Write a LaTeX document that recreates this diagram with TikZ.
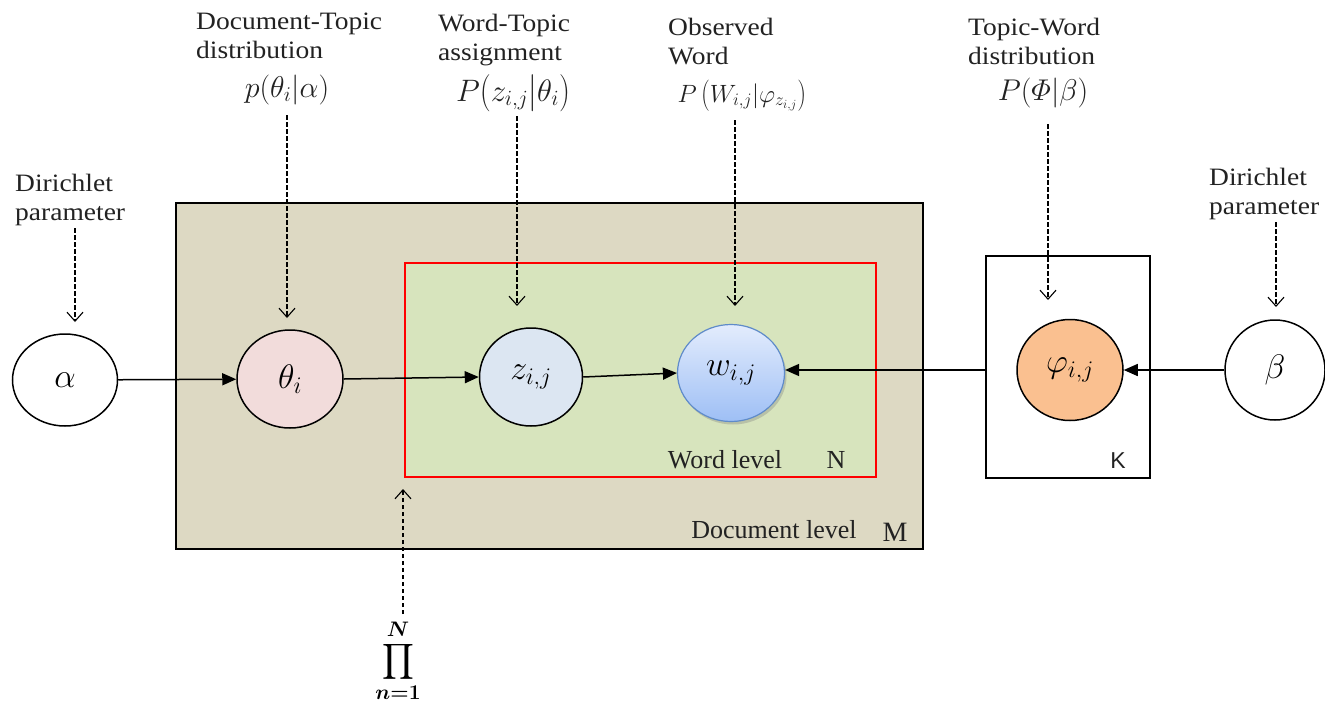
\documentclass[tikz,border=0pt]{standalone}
\usepackage{fix-cm}
\usepackage{exscale}
\usepackage{bm}
\usepackage{fontspec}
\setmainfont{Liberation Serif}
\newfontfamily\sansf{Liberation Sans}
\usetikzlibrary{shapes.geometric,arrows.meta,shadows}
\definecolor{docfill}{HTML}{DDD9C3}
\definecolor{wordfill}{HTML}{D7E4BD}
\definecolor{thetafill}{HTML}{F2DCDB}
\definecolor{zfill}{HTML}{DCE6F2}
\definecolor{phifill}{HTML}{FAC090}
\definecolor{wtop}{HTML}{E3ECFD}
\definecolor{wbot}{HTML}{9EBFF5}
\definecolor{wborder}{HTML}{5F8BC9}
\definecolor{txt}{HTML}{222222}
\newcommand{\hs}[1]{\scalebox{1.10}[1]{#1}}
\newcommand{\tallp}[2]{\raisebox{-0.05em}{\scalebox{1}[#1]{$#2$}}}
\newcommand{\Lp}[1]{\mathopen{\tallp{#1}{(}}}
\newcommand{\Rp}[1]{\mathclose{\tallp{#1}{)}}}
\newcommand{\Mb}[1]{\mathord{\tallp{#1}{|}}}
\tikzset{
  var/.style={ellipse, draw=black, line width=1.5pt, minimum width=106pt, minimum height=98pt, inner sep=0pt, font=\fontsize{34}{36}\selectfont},
  plate/.style={draw=black, line width=1.5pt, anchor=north west, inner sep=0pt},
  lbl/.style={align=left, text=txt, inner sep=0pt, font=\fontsize{25}{29}\selectfont},
  plbl/.style={text=txt, inner sep=0pt, anchor=base, font=\fontsize{26}{30}\selectfont},
  mlbl/.style={text=txt, inner sep=0pt, anchor=base},
  dasharrow/.style={dashed, dash pattern=on 4.5pt off 2.5pt, line width=1.1pt, -{Straight Barb[length=9pt,width=16pt,line width=1.1pt]}},
  solidarrow/.style={line width=1.5pt, -{Triangle[length=14pt,width=12pt]}}
}
\begin{document}
\begin{tikzpicture}[x=1pt,y=-1pt]
\useasboundingbox (0,0) rectangle (1325,702);
% plates
\node[plate, fill=docfill, minimum width=747pt, minimum height=346pt] (docbox) at (175,202) {};
\node[plate, draw=red, fill=wordfill, minimum width=471pt, minimum height=214pt] (wordbox) at (404,262) {};
\node[plate, fill=white, minimum width=164pt, minimum height=222pt] (kbox) at (985,255) {};
% plate labels
\node[plbl] (wl) at (725,468) {Word level};
\node[plbl] (nl) at (836,468) {N};
\node[plbl] (dl) at (774,538) {Document level};
\node[plbl, font=\fontsize{28}{30}\selectfont] (ml) at (895,541) {M};
\node[plbl, font=\sansf\fontsize{23}{26}\selectfont] (kl) at (1118,468) {K};
% variables
\node[var, minimum width=105pt, minimum height=92pt] (alpha) at (65,380) {$\alpha$};
\node[var, fill=thetafill] (theta) at (290,379) {$\theta_i$};
\node[var, fill=zfill, minimum width=103pt] (z) at (531,377) {$z_{i,j}$};
\node[var, draw=wborder, line width=1.2pt, top color=wtop, bottom color=wbot, drop shadow={shadow xshift=2pt, shadow yshift=-3pt, opacity=0.35}, minimum width=107pt, minimum height=97pt] (w) at (731,373) {$w_{i,j}$};
\node[var, fill=phifill, minimum height=101pt] (phi) at (1070,370) {$\varphi_{i,j}$};
\node[var, minimum width=100pt, minimum height=100pt] (beta) at (1275,370) {$\beta$};
% solid connectors
\draw[solidarrow] (alpha) -- (theta);
\draw[solidarrow] (theta.east) -- (z.west);
\draw[solidarrow] (z.east) -- (w.west);
\draw[solidarrow] (kbox.west |- phi.center) -- (w.east |- phi.center);
\draw[solidarrow] (beta.west) -- (phi.east);
% top labels
\node[lbl, anchor=north west] (dt) at (196,13) {\hs{Document-Topic}\\\hs{distribution}};
\node[mlbl, font=\fontsize{30}{30}\selectfont] (dtm) at (287,97) {$p(\theta_i|\alpha)$};
\node[lbl, anchor=north west] (wt) at (438,14) {\hs{Word-Topic}\\\hs{assignment}};
\node[mlbl, font=\fontsize{31}{30}\selectfont] (wtm) at (513,101) {$P\Lp{1.2}z_{i,j}\Mb{1.2}\theta_i\Rp{1.2}$};
\node[lbl, anchor=north west] (ow) at (668,18) {\hs{Observed}\\\hs{Word}};
\node[mlbl, font=\fontsize{25}{30}\selectfont] (owm) at (742,102) {$P\,\Lp{1.25}W_{i,j}|\varphi_{z_{i,j}}\Rp{1.25}$};
\node[lbl, anchor=north west] (tw) at (968,18) {\hs{Topic-Word}\\\hs{distribution}};
\node[mlbl, font=\fontsize{30}{30}\selectfont] (twm) at (1043,100) {$P(\mathnormal{\Phi}|\beta)$};
\node[lbl, anchor=north west] (dp1) at (15,174) {\hs{Dirichlet}\\\hs{parameter}};
\node[lbl, anchor=north west] (dp2) at (1209,168) {\hs{Dirichlet}\\\hs{parameter}};
\node[inner sep=0pt, font=\fontsize{30}{30}\selectfont] (prod) at (398,661) {$\displaystyle\prod_{\bm{n=1}}^{\bm{N}}$};
% dashed arrows
\coordinate (a1s) at (287,115); \coordinate (a1e) at (287,318);
\coordinate (a2s) at (517,116); \coordinate (a2e) at (517,306);
\coordinate (a3s) at (735,120); \coordinate (a3e) at (735,306);
\coordinate (a4s) at (1048,124); \coordinate (a4e) at (1048,300);
\coordinate (a5s) at (75,228); \coordinate (a5e) at (75,322);
\coordinate (a6s) at (1276,222); \coordinate (a6e) at (1276,307);
\coordinate (a7s) at (403,614); \coordinate (a7e) at (403,489);
\draw[dasharrow] (a1s) -- (a1e);
\draw[dasharrow] (a2s) -- (a2e);
\draw[dasharrow] (a3s) -- (a3e);
\draw[dasharrow] (a4s) -- (a4e);
\draw[dasharrow] (a5s) -- (a5e);
\draw[dasharrow] (a6s) -- (a6e);
\draw[dasharrow] (a7s) -- (a7e);
\end{tikzpicture}
\end{document}
